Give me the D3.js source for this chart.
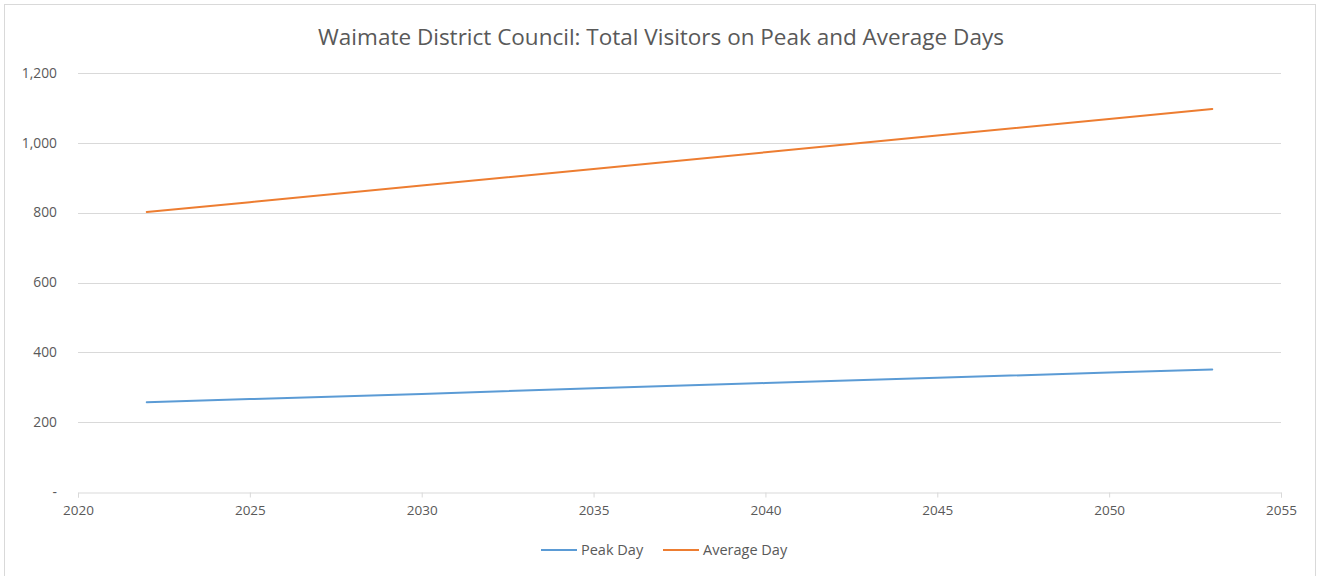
<!DOCTYPE html>
<html>
<head>
<meta charset="utf-8">
<script src="https://cdn.jsdelivr.net/npm/d3@7"></script>
<style>
  body { margin: 0; background: #fff; }
  svg text { font-family: "Open Sans", "Noto Sans", sans-serif; fill: #595959; }
</style>
</head>
<body>
<div id="chart"></div>
<script>
// data
var years = [2022, 2025, 2030, 2035, 2040, 2045, 2050, 2053];
var peakDay = [257, 266, 281, 297, 312, 327, 342, 351];
var averageDay = [802, 830, 878, 925, 973, 1021, 1068, 1097];
var seriesNames = ["Peak Day", "Average Day"];
var seriesColors = ["#5b9bd5", "#ed7d31"];
var xTicks = [2020, 2025, 2030, 2035, 2040, 2045, 2050, 2055];
var yTicks = [0, 200, 400, 600, 800, 1000, 1200];
var title = "Waimate District Council: Total Visitors on Peak and Average Days";

var W = 1318, H = 576;
var margin = {left: 78, right: 37, top: 73, bottom: 84};

var svg = d3.select("#chart").append("svg")
  .attr("width", W)
  .attr("height", H);

// chart border
svg.append("rect")
  .attr("x", 4.5).attr("y", 4.5)
  .attr("width", W - 2.5 - 4.5).attr("height", H + 10)
  .style("fill", "#fff")
  .style("stroke", "#d9d9d9");

var x = d3.scaleLinear().domain([2020, 2055]).range([margin.left, W - margin.right]);
var y = d3.scaleLinear().domain([0, 1200]).range([H - margin.bottom, margin.top]);

// title
svg.append("text")
  .attr("x", 661).attr("y", 45)
  .attr("text-anchor", "middle")
  .style("font-size", "22.5px")
  .text(title);

// gridlines
svg.append("g").selectAll("line")
  .data(yTicks.filter(function(d) { return d > 0; }))
  .enter().append("line")
  .attr("x1", x(2020)).attr("x2", x(2055))
  .attr("y1", function(d) { return Math.round(y(d)) + 0.5; })
  .attr("y2", function(d) { return Math.round(y(d)) + 0.5; })
  .style("stroke", "#d9d9d9")
  .style("stroke-width", "1px");

// y labels
svg.append("g").selectAll("text")
  .data(yTicks)
  .enter().append("text")
  .attr("x", 57)
  .attr("y", function(d) { return y(d); })
  .attr("dy", "0.35em")
  .attr("text-anchor", "end")
  .style("font-size", "13.8px")
  .text(function(d) { return d === 0 ? "-" : d3.format(",")(d); });

// x axis
var xAxis = svg.append("g")
  .attr("transform", "translate(0," + (Math.round(y(0)) + 0.5) + ")")
  .call(d3.axisBottom(x).tickValues(xTicks).tickFormat(d3.format("d")).tickSize(5).tickPadding(8));
xAxis.select(".domain").style("stroke", "#d9d9d9");
xAxis.selectAll(".tick line").style("stroke", "#d9d9d9");
xAxis.selectAll(".tick text")
  .style("font-size", "13.5px")
  .style("fill", "#595959");

// lines
var line = d3.line()
  .x(function(d) { return x(d[0]); })
  .y(function(d) { return y(d[1]); });

[peakDay, averageDay].forEach(function(vals, i) {
  svg.append("path")
    .datum(years.map(function(yr, j) { return [yr, vals[j]]; }))
    .attr("d", line)
    .style("fill", "none")
    .style("stroke", seriesColors[i])
    .style("stroke-width", "2px")
    .style("stroke-linecap", "round");
});

// legend
var legendPos = [541, 663];
var legend = svg.append("g").selectAll("g")
  .data(seriesNames)
  .enter().append("g")
  .attr("transform", function(d, i) { return "translate(" + legendPos[i] + ",550)"; });
legend.append("line")
  .attr("x1", 0).attr("x2", 36)
  .style("stroke", function(d, i) { return seriesColors[i]; })
  .style("stroke-width", "2px");
legend.append("text")
  .attr("x", 40)
  .attr("dy", "0.35em")
  .style("font-size", "14.5px")
  .text(function(d) { return d; });
</script>
</body>
</html>
